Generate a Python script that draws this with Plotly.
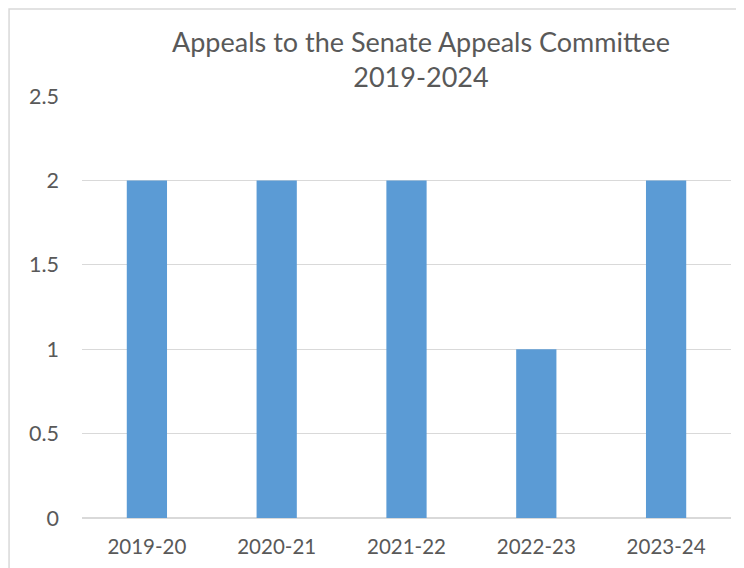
import plotly.graph_objects as go

categories = ["2019-20", "2020-21", "2021-22", "2022-23", "2023-24"]
appeals = [2, 2, 2, 1, 2]
title_text = "Appeals to the Senate Appeals Committee<br>2019-2024"

FONT = "Lato"
GREY = "#595959"
OFF = 8  # page body margin

fig = go.Figure(go.Bar(x=categories, y=appeals, marker=dict(color="#5b9bd5", line=dict(width=0))))

W, H = 744, 568
L = 81.5 - OFF
T = 95.5 - OFF
R = W - (731 - OFF)
B = H - (518 - OFF)
pw = W - L - R
ph = H - T - B

def px(x):
    return (x - OFF - L) / pw

def py(y):
    return 1 + (T - (y - OFF)) / ph

fig.update_layout(
    width=W, height=H,
    margin=dict(l=L, r=R, t=T, b=B, autoexpand=False),
    paper_bgcolor="white", plot_bgcolor="white",
    bargap=0.69,
    showlegend=False,
    font=dict(family=FONT, color=GREY),
    xaxis=dict(showgrid=False, showline=False, ticks="", tickfont=dict(size=20.5, color=GREY),
               ticklabelstandoff=14, zeroline=False),
    yaxis=dict(range=[0, 2.5], dtick=0.5, showgrid=True, gridcolor="#d9d9d9", gridwidth=1,
               zeroline=True, zerolinecolor="#d9d9d9", zerolinewidth=1.5,
               showline=False, ticks="", tickfont=dict(size=21.5, color=GREY),
               ticklabelstandoff=22),
    annotations=[dict(text=title_text, xref="paper", yref="paper", x=px(421), y=py(58),
                      xanchor="center", yanchor="middle", showarrow=False,
                      font=dict(size=27, color=GREY, family=FONT))],
    shapes=[dict(type="rect", xref="paper", yref="paper", x0=px(8.5), x1=px(800), y0=py(620), y1=py(8.5),
                 line=dict(color="#d9d9d9", width=1.5), fillcolor="rgba(0,0,0,0)", layer="below")],
)

fig.write_html("out.html")
